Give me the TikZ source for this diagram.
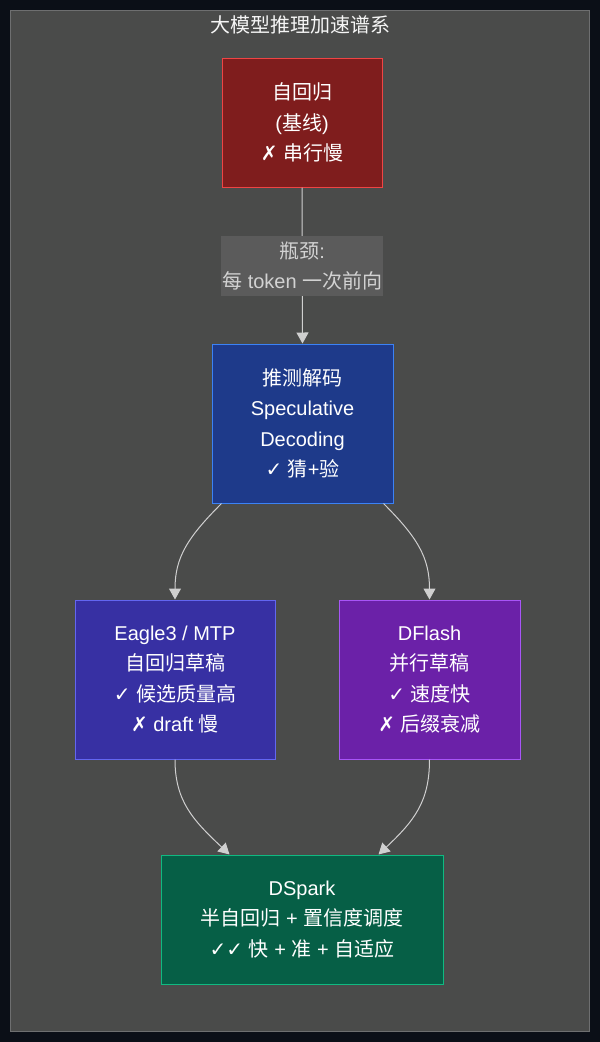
\documentclass[tikz,border=0pt]{standalone}
\usepackage{fontspec}
\setmainfont{Liberation Sans}
\newfontfamily\cjk{Noto Sans CJK SC}
\newfontfamily\sym{DejaVu Sans}
\usetikzlibrary{arrows.meta,calc}
\definecolor{outerbg}{HTML}{0B0F17}
\definecolor{panel}{HTML}{4A4B4A}
\definecolor{panelborder}{HTML}{6E6F70}
\definecolor{lblfill}{HTML}{5B5B5B}
\definecolor{lbltext}{HTML}{D2D2D2}
\definecolor{edgecol}{HTML}{D0D0D0}
\definecolor{redfill}{HTML}{7F1D1D}
\definecolor{redline}{HTML}{EF4444}
\definecolor{bluefill}{HTML}{1E3A8A}
\definecolor{blueline}{HTML}{3B82F6}
\definecolor{indfill}{HTML}{3730A3}
\definecolor{indline}{HTML}{6366F1}
\definecolor{purfill}{HTML}{6B21A8}
\definecolor{purline}{HTML}{A855F7}
\definecolor{grnfill}{HTML}{065F46}
\definecolor{grnline}{HTML}{10B981}
\newcommand{\zh}[1]{{\cjk #1}}
\newcommand{\ck}{{\sym ✓}}
\newcommand{\xx}{{\sym ✗}}
\tikzset{
  box/.style={draw, line width=1pt, text=white, align=center, inner sep=0pt,
    font=\fontsize{20}{30.3}\selectfont},
  lbl/.style={fill=lblfill, text=lbltext, align=center, inner sep=0pt,
    minimum width=162pt, minimum height=60pt, font=\fontsize{20}{30}\selectfont},
  arr/.style={draw=edgecol, line width=1pt, -{Triangle[length=11pt,width=12pt]}},
}
\begin{document}
\begin{tikzpicture}[x=1pt,y=-1pt]
\useasboundingbox (0,0) rectangle (600,1042);
\fill[outerbg] (0,0) rectangle (600,1042);
\draw[fill=panel, draw=panelborder, line width=1pt] (10.5,10.5) rectangle (589.5,1031.5);
\node[text=white!92!gray, font=\fontsize{20}{24}\selectfont] (title) at (300,25) {\zh{大模型推理加速谱系}};

\node[box, fill=redfill, draw=redline, minimum width=160pt, minimum height=129pt] (n1) at (302,122.5)
  {\zh{自回归}\\(\zh{基线})\\\xx\ \zh{串行慢}};
\node[box, fill=bluefill, draw=blueline, minimum width=181pt, minimum height=159pt] (n2) at (302.5,423.5)
  {\zh{推测解码}\\Speculative\\Decoding\\\ck\ \zh{猜}+\zh{验}};
\node[box, fill=indfill, draw=indline, minimum width=200pt, minimum height=159pt] (n3) at (175,679.5)
  {Eagle3 / MTP\\\zh{自回归草稿}\\\ck\ \zh{候选质量高}\\\xx\ draft \zh{慢}};
\node[box, fill=purfill, draw=purline, minimum width=181pt, minimum height=159pt] (n4) at (429.5,679.5)
  {DFlash\\\zh{并行草稿}\\\ck\ \zh{速度快}\\\xx\ \zh{后缀衰减}};
\node[box, fill=grnfill, draw=grnline, minimum width=282pt, minimum height=129pt] (n5) at (302,919.5)
  {DSpark\\\zh{半自回归} + \zh{置信度调度}\\\ck\ck\ \zh{快} + \zh{准} + \zh{自适应}};

\draw[arr] (n1.south) -- node[lbl] (l1) {\zh{瓶颈}:\\\zh{每} token \zh{一次前向}} (n2.north);
\draw[arr] ([xshift=10pt]n2.south west) .. controls +(-34,34) and +(0,-42) .. (n3.north);
\draw[arr] ([xshift=-10pt]n2.south east) .. controls +(34,34) and +(0,-42) .. (n4.north);
\draw[arr] (n3.south) .. controls +(0,42) and +(-36,-34) .. ([xshift=69pt]n5.north west);
\draw[arr] (n4.south) .. controls +(0,42) and +(36,-34) .. ([xshift=-65pt]n5.north east);
\end{tikzpicture}
\end{document}
